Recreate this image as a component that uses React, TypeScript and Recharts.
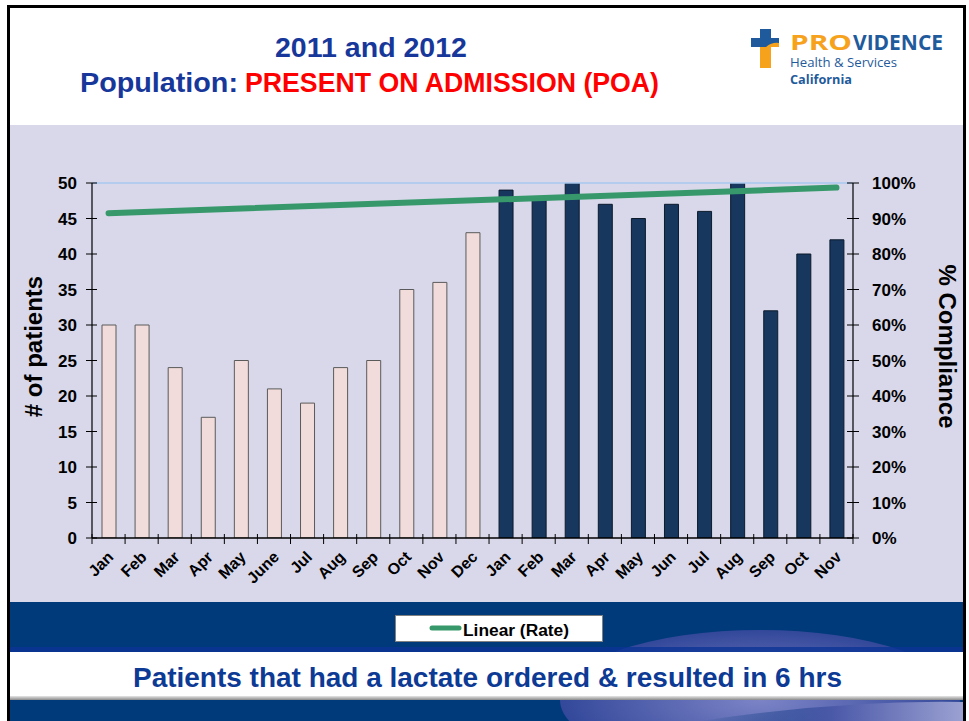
import { ComposedChart, Bar, Line, XAxis, YAxis, Cell, ReferenceLine, Label } from "recharts";

const months2011 = ["Jan", "Feb", "Mar", "Apr", "May", "June", "Jul", "Aug", "Sep", "Oct", "Nov", "Dec"];
const patients2011 = [30, 30, 24, 17, 25, 21, 19, 24, 25, 35, 36, 43];
const months2012 = ["Jan", "Feb", "Mar", "Apr", "May", "Jun", "Jul", "Aug", "Sep", "Oct", "Nov"];
const patients2012 = [49, 48, 50, 47, 45, 47, 46, 50, 32, 40, 42];
// linear trend of the rate at its two ends
const trendStart = 91.5;
const trendEnd = 98.7;
const patientTicks = [0, 5, 10, 15, 20, 25, 30, 35, 40, 45, 50];
const percentTicks = [0, 10, 20, 30, 40, 50, 60, 70, 80, 90, 100];

const rows = [
  ...months2011.map((m, i) => ({ id: `${m}-2011`, label: m, year: 2011, patients: patients2011[i] })),
  ...months2012.map((m, i) => ({ id: `${m}-2012`, label: m, year: 2012, patients: patients2012[i] })),
].map((r, i, all) => ({
  ...r,
  rate: i === 0 ? trendStart : i === all.length - 1 ? trendEnd : null,
}));

const FONT = '"Liberation Sans", Arial, sans-serif';
const LOGO_FONT = '"Open Sans", "Liberation Sans", sans-serif';
const NAVY = "#17389a";
const LOGO_BLUE = "#1f5b9c";
const LOGO_ORANGE = "#f6a21d";
const BAND_BLUE = "#003a7a";
const TREND = "#37996b";
const PLOT_W = 761;
const BAND = PLOT_W / rows.length;

function MonthTick(props: any) {
  const { x, y, payload } = props;
  const idx = payload.index;
  const row = rows[idx];
  const tx = x + 6;
  const ty = y + 20;
  return (
    <g>
      <line x1={x - BAND / 2} x2={x - BAND / 2} y1={y - 4} y2={y + 6} stroke="#000" />
      {idx === rows.length - 1 && (
        <line x1={x + BAND / 2} x2={x + BAND / 2} y1={y - 4} y2={y + 6} stroke="#000" />
      )}
      <text
        x={tx}
        y={ty}
        textAnchor="end"
        transform={`rotate(-45 ${tx} ${ty})`}
        fontFamily={FONT}
        fontWeight="bold"
        fontSize={16}
        fill="#000"
      >
        {row ? row.label : ""}
      </text>
    </g>
  );
}

function LeftTick(props: any) {
  const { x, y, payload } = props;
  return (
    <g>
      <line x1={x - 6} x2={x + 5} y1={y} y2={y} stroke="#000" />
      <text x={x - 15} y={y} dy="0.36em" textAnchor="end" fontFamily={FONT} fontWeight="bold" fontSize={17} fill="#000">
        {payload.value}
      </text>
    </g>
  );
}

function RightTick(props: any) {
  const { x, y, payload } = props;
  return (
    <g>
      <line x1={x - 6} x2={x + 6} y1={y} y2={y} stroke="#000" />
      <text x={x + 19} y={y} dy="0.36em" textAnchor="start" fontFamily={FONT} fontWeight="bold" fontSize={17} fill="#000">
        {payload.value}%
      </text>
    </g>
  );
}

function AxisTitle(props: any) {
  const { viewBox, value, side } = props;
  const left = side === "left";
  const cx = left ? viewBox.x + 1 : viewBox.x + 94;
  const cy = viewBox.y + viewBox.height / 2 - 14;
  return (
    <text
      x={cx}
      y={cy}
      textAnchor="middle"
      dominantBaseline="central"
      transform={`rotate(${left ? -90 : 90} ${cx} ${cy})`}
      fontFamily={FONT}
      fontWeight="bold"
      fontSize={24}
      fill="#000"
    >
      {value}
    </text>
  );
}

// text squeezed to the width it has in the slide (Calibri-like narrow look)
function Fit(props: any) {
  const { x, y, w, size, color, bold = true, family = FONT, children } = props;
  return (
    <text
      x={x}
      y={y}
      textLength={w}
      lengthAdjust="spacingAndGlyphs"
      fontFamily={family}
      fontWeight={bold ? "bold" : "normal"}
      fontSize={size}
      fill={color}
    >
      {children}
    </text>
  );
}

export default function App() {
  return (
    <div style={{ position: "absolute", left: 0, top: 0, width: 969, height: 721, background: "#fff", overflow: "hidden" }}>
      {/* slide background */}
      <svg width={969} height={721} style={{ position: "absolute", left: 0, top: 0 }}>
        <defs>
          <radialGradient id="swoosh" cx="0.5" cy="0.5" r="0.5">
            <stop offset="0%" stopColor="#7c84c6" />
            <stop offset="70%" stopColor="#4a5aa8" />
            <stop offset="100%" stopColor="#33489a" />
          </radialGradient>
          <linearGradient id="shadow" x1="0" y1="0" x2="0" y2="1">
            <stop offset="0%" stopColor="#e6e6e6" />
            <stop offset="100%" stopColor="#8a8a8a" />
          </linearGradient>
          <linearGradient id="bottomGlow" x1="0" y1="0" x2="1" y2="0">
            <stop offset="0%" stopColor="#003a7a" stopOpacity={0} />
            <stop offset="50%" stopColor="#4a58a8" />
            <stop offset="100%" stopColor="#9ba1d2" />
          </linearGradient>
        </defs>
        <rect x={10} y={8} width={953} height={117} fill="#fff" />
        <rect x={10} y={125} width={953} height={477} fill="#d8d8ea" />
        <rect x={10} y={602} width={953} height={119} fill={BAND_BLUE} />
        <ellipse cx={760} cy={700} rx={200} ry={70} fill="url(#swoosh)" />
        <rect x={10} y={647} width={953} height={5} fill="#0b3496" opacity={0.8} />
        <rect x={10} y={652} width={953} height={44} fill="#fff" />
        <rect x={10} y={696} width={953} height={4} fill="url(#shadow)" />
        <path d="M 700 721 Q 840 700 963 702 L 963 721 Z" fill="url(#bottomGlow)" />
        <rect x={7} y={5} width={3} height={716} fill="#000" />
        <rect x={7} y={5} width={959} height={3} fill="#000" />
        <rect x={963} y={5} width={3} height={716} fill="#000" />
      </svg>

      {/* chart panel */}
      <div style={{ position: "absolute", left: 10, top: 125, width: 953, height: 477 }}>
        <ComposedChart
          width={953}
          height={477}
          data={rows}
          margin={{ top: 58, right: 30, left: 22, bottom: 4 }}
          barCategoryGap={0}
        >
          <XAxis
            dataKey="id"
            xAxisId="x"
            interval={0}
            height={60}
            tickSize={0}
            tickMargin={0}
            tick={<MonthTick />}
            axisLine={{ stroke: "#000", strokeWidth: 1.5 }}
            tickLine={false}
          />
          <YAxis
            yAxisId="left"
            orientation="left"
            width={60}
            domain={[0, 50]}
            ticks={patientTicks}
            tickSize={0}
            tickMargin={0}
            tickLine={false}
            tick={<LeftTick />}
            axisLine={{ stroke: "#000", strokeWidth: 1.2 }}
            allowDataOverflow
          >
            <Label content={<AxisTitle side="left" value="# of patients" />} />
          </YAxis>
          <YAxis
            yAxisId="right"
            orientation="right"
            width={80}
            domain={[0, 100]}
            ticks={percentTicks}
            tickSize={0}
            tickMargin={0}
            tickLine={false}
            tick={<RightTick />}
            axisLine={{ stroke: "#000", strokeWidth: 1.2 }}
          >
            <Label content={<AxisTitle side="right" value="% Compliance" />} />
          </YAxis>
          <ReferenceLine yAxisId="left" xAxisId="x" y={50} stroke="#a9c8ee" strokeWidth={1.5} />
          <Bar dataKey="patients" xAxisId="x" yAxisId="left" barSize={14} isAnimationActive={false}>
            {rows.map((r) => (
              <Cell
                key={r.id}
                fill={r.year === 2011 ? "#f2dcdb" : "#17375e"}
                stroke={r.year === 2011 ? "#5a5a5a" : "#0c1a2c"}
                strokeWidth={1}
              />
            ))}
          </Bar>
          <Line
            dataKey="rate"
            xAxisId="x"
            yAxisId="right"
            type="linear"
            stroke={TREND}
            strokeWidth={6}
            strokeLinecap="round"
            dot={false}
            activeDot={false}
            connectNulls
            isAnimationActive={false}
          />
        </ComposedChart>
      </div>

      {/* titles, logo, legend, caption */}
      <svg width={969} height={721} style={{ position: "absolute", left: 0, top: 0, pointerEvents: "none" }}>
        <Fit x={275} y={57} w={192} size={27} color={NAVY}>2011 and 2012</Fit>
        <Fit x={80} y={92} w={158} size={27} color={NAVY}>Population:</Fit>
        <Fit x={245} y={92} w={414} size={27} color="#ff0000">PRESENT ON ADMISSION (POA)</Fit>

        <rect x={760} y={29} width={11} height={18} fill={LOGO_BLUE} />
        <rect x={760} y={47} width={11} height={21} fill={LOGO_ORANGE} />
        <rect x={751} y={38} width={28} height={9} fill={LOGO_BLUE} />
        <path d="M 766 47 Q 772 42 779 43 L 779 47 Z" fill={LOGO_ORANGE} />
        <Fit x={790} y={50} w={62} size={21} color={LOGO_ORANGE} family={LOGO_FONT}>PRO</Fit>
        <Fit x={853} y={50} w={90} size={21} color={LOGO_BLUE} family={LOGO_FONT}>VIDENCE</Fit>
        <Fit x={790} y={67} w={107} size={12} color={LOGO_BLUE} bold={false} family={LOGO_FONT}>Health &amp; Services</Fit>
        <Fit x={790} y={84} w={62} size={12} color={LOGO_BLUE} family={LOGO_FONT}>California</Fit>

        <rect x={395.5} y={615.5} width={207} height={26} fill="#fff" stroke="#808080" />
        <line x1={432} x2={459} y1={628} y2={628} stroke={TREND} strokeWidth={5} strokeLinecap="round" />
        <Fit x={463} y={636} w={106} size={16} color="#000">Linear (Rate)</Fit>

        <Fit x={133} y={687} w={709} size={28} color="#0d3a94">Patients that had a lactate ordered &amp; resulted in 6 hrs</Fit>
      </svg>
    </div>
  );
}
